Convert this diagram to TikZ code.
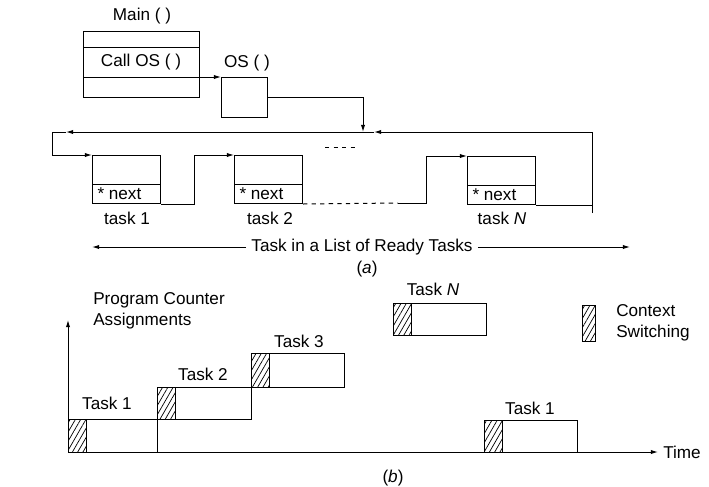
\documentclass[tikz,border=0pt]{standalone}
\usepackage{fontspec}
\setmainfont{Liberation Sans}
\usetikzlibrary{arrows.meta, calc, patterns, patterns.meta, positioning}

\begin{document}
\begin{tikzpicture}[x=0.7pt, y=-0.7pt, line width=0.7pt, >={Latex[length=5pt, width=3pt]},
    font=\fontsize{12}{15}\selectfont,
    box/.style={draw, inner sep=0pt, anchor=north west},
    taskbox/.style={box, minimum width=47.6pt, minimum height=33.6pt},
    csw/.style={draw, pattern={Lines[angle=60, distance=3.2pt, line width=0.5pt]}}]
    \useasboundingbox (0,0) rectangle (709,486);

    % Main ( ) and OS ( )
    \node[box, minimum width=81.2pt, minimum height=46.2pt] (main) at (83,31) {};
    \draw (83,47) -- (199,47);
    \draw (83,77) -- (199,77);
    \node (mainlbl) at (142,16) {Main ( )};
    \node (calllbl) at (141,62) {Call OS ( )};
    \node[box, minimum width=32.2pt, minimum height=28pt] (os) at (221,77) {};
    \node (oslbl) at (247,63) {OS ( )};
    \coordinate (callrow) at (199,77);
    \draw[->] (callrow) -- (os.north west);
    \coordinate (join) at (363,132);
    \draw[->] (os.east) -| (join);

    % Task list
    \node[taskbox] (t1) at (92,155) {};
    \node[taskbox] (t2) at (234,155) {};
    \node[taskbox] (tN) at (467,156) {};
    \foreach \t/\x/\s in {t1/127/task 1, t2/270/task 2, tN/502/task \textit{N}} {
        \draw ($(\t.south west)+(0,-20)$) -- ($(\t.south east)+(0,-20)$);
        \node[anchor=west, inner sep=0pt] (\t next) at ($(\t.south west)+(5,-10)$) {* next};
        \node (\t lbl) at (\x,218) {\s};
    }

    % Links
    \draw[->] (t1.south east) -- ++(33,0) |- (t2.north west);
    \coordinate (gap) at (398,203);
    \draw[dashed] (t2.south east) -- (gap);
    \draw[->] (gap) -- ++(28,0) |- (tN.north west);
    \draw[dashed] (325,147) -- (357,147);

    % Back loop
    \coordinate (rt) at (592,132);
    \coordinate (rb) at (592,213);
    \coordinate (lt) at (52,132);
    \draw (tN.south east) -- (tN.south east -| rb);
    \draw[->] (rb) -- (rt) -- (374,132);
    \draw[->] (374,132) -- (66,132);
    \draw[->] (66,132) -- (lt) |- (t1.north west);

    \node (ready) at (362,247) {Task in a List of Ready Tasks};
    \coordinate (rl) at (92,247);
    \coordinate (rr) at (630,247);
    \draw[->] (ready.west) -- (rl);
    \draw[->] (ready.east) -- (rr);
    \node (capa) at (367,269) {(\textit{a})};

    % Program counter
    \coordinate (origin) at (68,452);
    \coordinate (ytop) at (68,320);
    \coordinate (xend) at (658,452);
    \draw[->] (origin) -- (ytop);
    \draw[->] (origin) -- (xend);
    \node[anchor=west] (time) at (xend) {Time};
    \node[anchor=west, align=left] (pc) at (88,311) {Program Counter\\Assignments};

    \foreach \xa/\xb/\ya/\yb/\lx/\ly/\lbl in {68/157/419/452/107/403/Task 1, 157/251/387/419/203/374/Task 2,
        251/344/353/387/299/341/Task 3, 393/486/303/335/433/289/Task \textit{N}, 484/577/420/452/530/408/Task 1} {
        \draw (\xa,\ya) rectangle (\xb,\yb);
        \draw[csw] (\xa,\ya) rectangle (\xa+18,\yb);
        \node (bar\xa) at (\lx,\ly) {\lbl};
    }

    % Legend
    \draw[csw] (582,305) rectangle (595,341);
    \node[anchor=west, align=left] (legend) at (611,323) {Context\\Switching};
    \node (capb) at (393,478) {(\textit{b})};
\end{tikzpicture}
\end{document}
